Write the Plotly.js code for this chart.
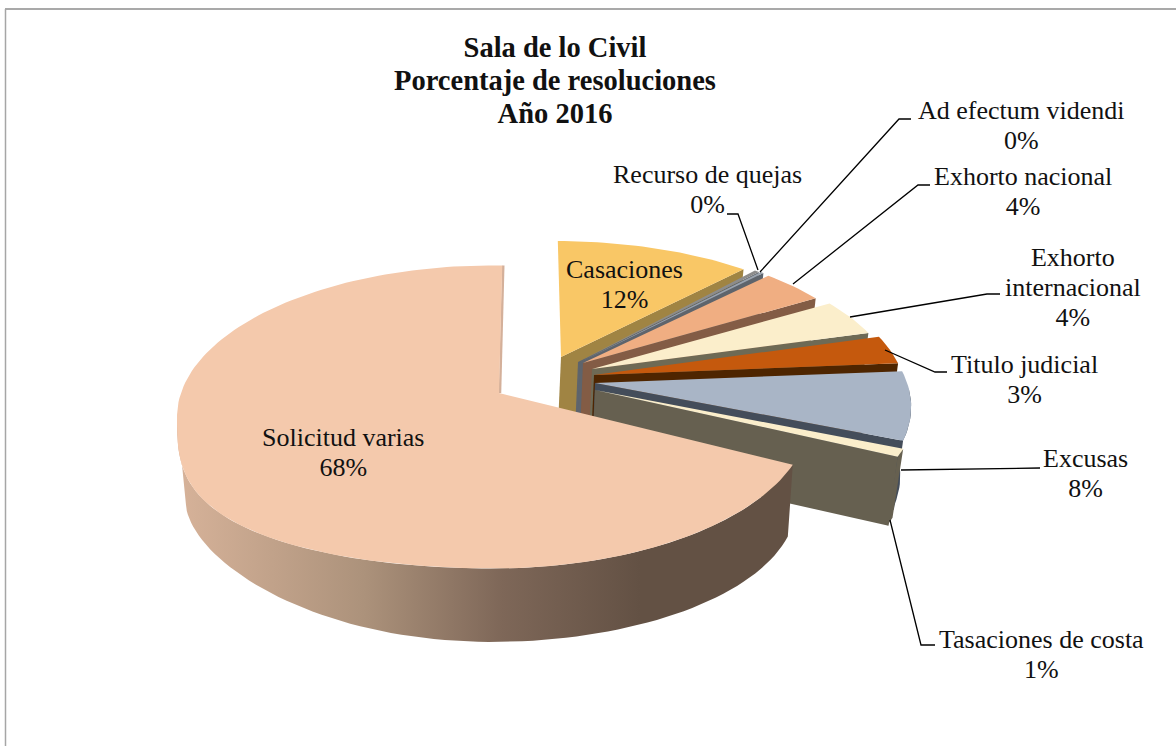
<!DOCTYPE html>
<html>
<head>
<meta charset="utf-8">
<script src="https://cdn.plot.ly/plotly-3.0.1.min.js"></script>
<style>html,body{margin:0;padding:0;background:#fff}#chart{width:1176px;height:746px}</style>
</head>
<body>
<div id="chart"></div>
<script>
// ---- data (percent of resolutions) ----
const categories = ["Casaciones","Recurso de quejas","Ad efectum videndi","Exhorto nacional","Exhorto internacional","Titulo judicial","Excusas","Tasaciones de costa","Solicitud varias"];
const labelText  = ["Casaciones","Recurso de quejas","Ad efectum videndi","Exhorto nacional","Exhorto<br>internacional","Titulo judicial","Excusas","Tasaciones de costa","Solicitud varias"];
const percents   = [11.9,0.3,0.2,4.0,4.2,3.1,7.9,0.9,67.5];
const chartTitle = "<b>Sala de lo Civil<br>Porcentaje de resoluciones<br>Año 2016</b>";

// ---- styling ----
const topColors  = ["#F9C766","#8C8C8C","#9AA3AE","#F0AE82","#FBEECB","#C5590D","#A9B5C6","#FBEECB","#F4C9AC"];
const sideColors = ["#A08443","#5E646C","#5E646C","#835C45","#6E6A55","#4E2500","#444D5A","#666050","#645245"];
const apexX = [561,578,580,583,592,594,595,595,499];
const apexY = [357,362,362,363,369,375,383,390,393];
const scaleX = [0.98,0.95,0.95,0.96,0.98,1.01,1.02,1.03,1];
const scaleY = [0.91,0.95,0.95,0.93,0.94,1,1,0.93,1];
const startAdj = [-0.7,0,0,0,0,0,0,0,0];
const endAdj   = [0,0,0,0,0,0,-2,0,0.7];
const labelX = [624,707,1021,1023,1073,1024,1085,1041,343];
const labelTop = [270,175,111,177,258,365,459,640,438];
const leaderX = [null,[727,738,758],[760,899,911],[793,918,930],[850,987,1000],[885,935,947],[901,1040],[890,921,935],null];
const leaderY = [null,[214,214,270],[272,119,119],[284,185,185],[317,294,294],[350,372,372],[470,468],[520,645,645],null];
const RX = 316, RY = 151.5, offX = 0.019, offY = -0.158;
const LABEL_SIZE = 26, TITLE_SIZE = 28.5, LABEL_LINE_PX = 30, TITLE_LINE_PX = 33;
// rim of the large slice: perspective makes its near-left quadrant fuller than an ellipse
const TOP_CX = 494, TOP_CY = 417, TOP_BULGE = 0.66;
const BASE_CX = 491, BASE_CY = 505, BASE_RX = 305, BASE_RY = 137, BASE_BULGE = 1.2;

// direction from the apex to the rim of the projected pie, at a true angle (deg, clockwise from top)
function rim(deg){
  const a = deg*Math.PI/180, dx = Math.sin(a), dy = -Math.cos(a);
  const pd = offX*dx + offY*dy, pp = offX*offX + offY*offY;
  const s = -pd + Math.sqrt(pd*pd - pp + 1);
  return [s*dx*RX, s*dy*RY];
}
function arc(ax, ay, sx, sy, d0, d1){
  const n = Math.max(2, Math.ceil(Math.abs(d1-d0)/1.5)+1), xs=[], ys=[];
  for(let k=0;k<n;k++){
    const r = rim(d0+(d1-d0)*k/(n-1));
    xs.push(ax+r[0]*sx); ys.push(ay+r[1]*sy);
  }
  return [xs,ys];
}
function bigTopArc(d0,d1){
  const a = arc(apexX[8],apexY[8],scaleX[8],scaleY[8],d0,d1);
  a[1] = a[1].map((y,k)=> (a[0][k]<TOP_CX && y>TOP_CY) ? TOP_CY+RY*Math.pow((y-TOP_CY)/RY,TOP_BULGE) : y);
  return a;
}
const total = percents.reduce((a,b)=>a+b,0);
const starts = []; let cum = 0;
percents.forEach(v=>{starts.push(cum); cum += v/total*360;});
const ends = percents.map((v,i)=>starts[i]+v/total*360+endAdj[i]);
starts.forEach((s,i)=>{starts[i]=s+startAdj[i];});

const DEPTH = 69, DX = -3;
const traces = [];
function poly(xs,ys,color,extra){
  traces.push(Object.assign({type:"scatter",mode:"lines",x:xs.concat(xs[0]),y:ys.concat(ys[0]),fill:"toself",fillcolor:color,line:{width:0,color:color},hoverinfo:"skip",showlegend:false},extra||{}));
}
function topFace(i){
  const a = i===8 ? bigTopArc(starts[i],ends[i]) : arc(apexX[i],apexY[i],scaleX[i],scaleY[i],starts[i],ends[i]);
  poly([apexX[i]].concat(a[0]),[apexY[i]].concat(a[1]),topColors[i]);
}
function cutFace(i){
  const e = rim(ends[i]);
  const ex = apexX[i]+e[0]*scaleX[i], ey = apexY[i]+e[1]*scaleY[i];
  const e2x = apexX[i]+DX+e[0]*scaleX[i]*0.98, e2y = apexY[i]+DEPTH+e[1]*scaleY[i];
  poly([apexX[i],ex,e2x,apexX[i]+DX],[apexY[i],ey,e2y,apexY[i]+DEPTH],sideColors[i]);
}
function outerFace(i,d0,d1,bsx,bsy){
  const t = arc(apexX[i],apexY[i],scaleX[i],scaleY[i],d0,d1);
  const b = arc(apexX[i]+DX,apexY[i]+DEPTH,scaleX[i]*bsx,scaleY[i]*bsy,d0,d1);
  poly(t[0].concat(b[0].reverse()),t[1].concat(b[1].reverse()),sideColors[i]);
}
function bigOuterFace(d0,d1){
  const t = bigTopArc(d0,d1);
  const sinEnd = (t[0][0]-5-BASE_CX)/BASE_RX;
  const t0 = Math.PI-Math.asin(Math.min(1,sinEnd)), t1 = 1.5*Math.PI;
  const bx=[], by=[];
  for(let k=0;k<=80;k++){          // from the left extreme back to the right end of the base rim
    const u = t1+(t0-t1)*k/80, s = Math.sin(u), c = -Math.cos(u);
    bx.push(BASE_CX+BASE_RX*s);
    by.push(BASE_CY+BASE_RY*(s<0 && c>0 ? Math.pow(c,BASE_BULGE) : c));
  }
  poly(t[0].concat(bx),t[1].concat(by),sideColors[8],{fillgradient:{type:"horizontal",start:180,stop:640,colorscale:[[0,"#D6B299"],[0.4,"#AC927B"],[0.7,"#7E6758"],[1,"#635144"]]}});
}
// back to front
for(let i=0;i<8;i++){
  if(i>=6) outerFace(i,Math.max(starts[i],92),ends[i]+(i===6?2:0),0.975,1);
  cutFace(i);
  topFace(i);
}
const big = 8;
bigOuterFace(starts[big],262);
// thin inner cut of the large slice
const topEnd = rim(ends[big]);
traces.push({type:"scatter",mode:"lines",x:[apexX[big]+1,apexX[big]+topEnd[0]+1],y:[apexY[big],apexY[big]+topEnd[1]],line:{color:"#D4B09A",width:2.5},hoverinfo:"skip",showlegend:false});
topFace(big);
// leader lines
leaderX.forEach((lx,i)=>{ if(lx) traces.push({type:"scatter",mode:"lines",x:lx,y:leaderY[i],line:{color:"#000",width:1.3},hoverinfo:"skip",showlegend:false}); });

const annotations = categories.map((c,i)=>{
  const text = labelText[i]+"<br>"+Math.round(percents[i])+"%";
  const lines = text.split("<br>").length;
  return {
    x:labelX[i],y:labelTop[i]+(lines-1)*0.65*LABEL_SIZE,xref:"x",yref:"y",showarrow:false,align:"center",
    text:text,font:{family:"Liberation Serif, serif",size:LABEL_SIZE,color:"#111"}
  };
});

const layout = {
  width:1176,height:746,margin:{l:0,r:0,t:0,b:0},paper_bgcolor:"#fff",plot_bgcolor:"#fff",showlegend:false,
  title:{text:chartTitle,x:555/1176,xanchor:"center",y:1-57/746,yanchor:"top",font:{family:"Liberation Serif, serif",size:TITLE_SIZE,color:"#111"}},
  xaxis:{range:[0,1176],visible:false,fixedrange:true},
  yaxis:{range:[746,0],visible:false,fixedrange:true},
  annotations:annotations,
  shapes:[
    {type:"line",xref:"x",yref:"y",x0:5,x1:1176,y0:9,y1:9,line:{color:"#8C8C8C",width:1.5}},
    {type:"line",xref:"x",yref:"y",x0:5.5,x1:5.5,y0:9,y1:746,line:{color:"#A6A6A6",width:1.5}}
  ]
};
Plotly.newPlot("chart",traces,layout,{displayModeBar:false,staticPlot:true}).then(gd=>{
  // tighten line spacing of the multi-line texts to the reference's leading
  const tighten=(sel,ratio)=>gd.querySelectorAll(sel).forEach(t=>{
    const m=parseFloat(t.getAttribute("dy"));
    if(m) t.setAttribute("dy",(m*ratio)+"em");
  });
  tighten(".annotation-text tspan.line",(LABEL_LINE_PX/LABEL_SIZE)/1.3);
  tighten(".gtitle tspan.line",(TITLE_LINE_PX/TITLE_SIZE)/1.3);
});
</script>
</body>
</html>
